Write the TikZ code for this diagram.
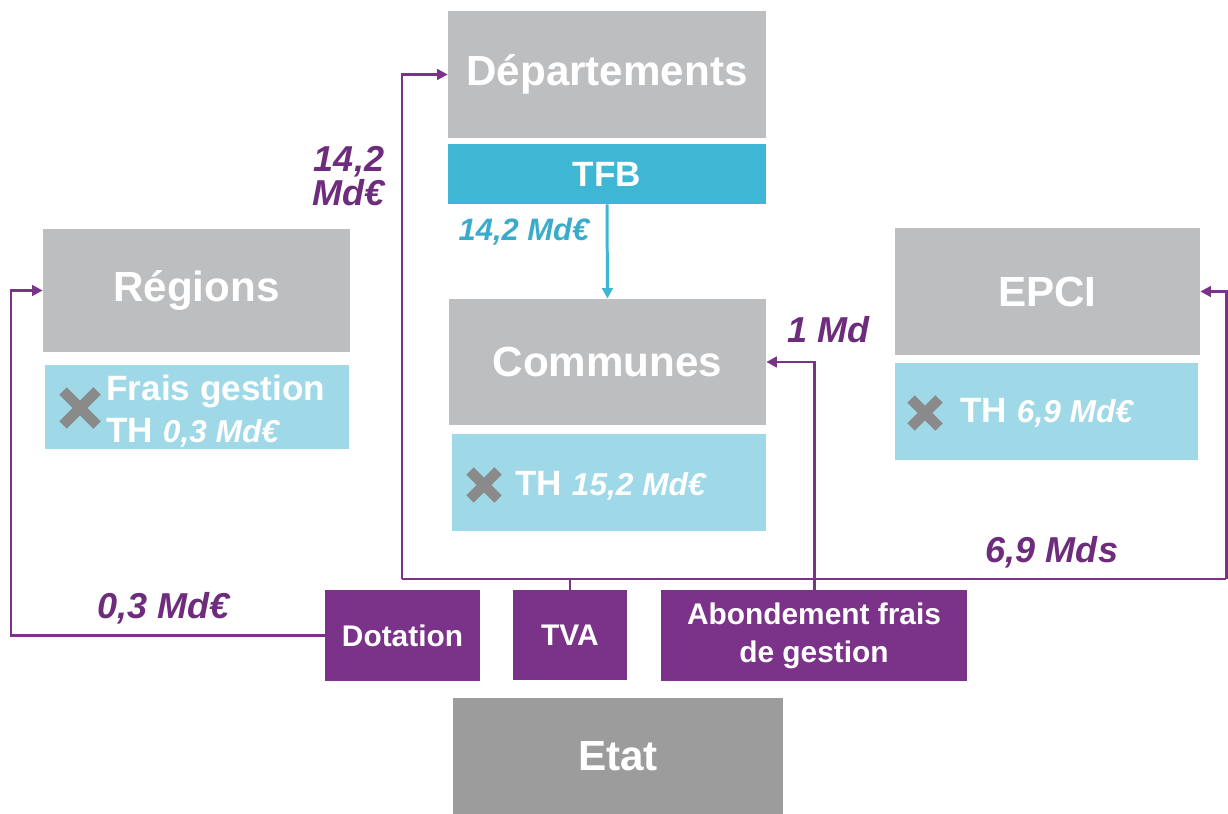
\documentclass[tikz,border=0pt]{standalone}
\usepackage{fontspec}
\setmainfont{Liberation Sans}
\usetikzlibrary{positioning}
\usetikzlibrary{arrows.meta}

\definecolor{gris}{HTML}{BCBEC0}
\definecolor{grisfonce}{HTML}{9C9C9C}
\definecolor{bleu}{HTML}{3DB7D4}
\definecolor{bleutexte}{HTML}{3AABCB}
\definecolor{bleuclair}{HTML}{9FD9E8}
\definecolor{violet}{HTML}{7B3289}
\definecolor{violettexte}{HTML}{6E2C7D}
\definecolor{croix}{HTML}{8A8A8A}

\newcommand{\montant}[1]{{\fontsize{18}{22}\selectfont\itshape #1}}

\begin{document}
\begin{tikzpicture}[x=0.02cm, y=-0.02cm,
    bloc/.style={fill=gris, text=white, inner sep=0pt, font=\fontsize{24}{28}\selectfont\bfseries},
    sousbloc/.style={fill=bleuclair, inner sep=0pt},
    taxe/.style={fill=bleu, text=white, inner sep=0pt, font=\fontsize{20}{24}\selectfont\bfseries},
    source/.style={fill=violet, text=white, inner sep=0pt, align=center, font=\fontsize{17}{21}\selectfont\bfseries},
    soustexte/.style={text=white, inner sep=0pt, anchor=west, align=left, font=\fontsize{20}{24}\selectfont\bfseries},
    flux/.style={draw=violet, line width=1.7pt, -{Triangle[length=6pt, width=6pt]}},
    trait/.style={draw=violet, line width=1.7pt},
    montantv/.style={text=violettexte, align=center, inner sep=0pt, font=\fontsize{20.5}{21}\selectfont\bfseries\itshape},
    croixtrait/.style={draw=croix, line width=6pt}]
    \useasboundingbox (0,0) rectangle (1228,814);

    \node[bloc, minimum width=6.36cm, minimum height=2.54cm] (dep) at (607,74.5) {Départements};
    \node[taxe, minimum width=6.36cm, minimum height=1.2cm] (tfb) at (607,174) {TFB};
    \node[bloc, minimum width=6.14cm, minimum height=2.46cm] (reg) at (196.5,290.5) {Régions};
    \node[sousbloc, minimum width=6.08cm, minimum height=1.68cm] (regsub) at (197,407) {};
    \node[bloc, minimum width=6.34cm, minimum height=2.52cm] (com) at (607.5,362) {Communes};
    \node[sousbloc, minimum width=6.28cm, minimum height=1.94cm] (comsub) at (609,482.5) {};
    \node[bloc, minimum width=6.1cm, minimum height=2.54cm] (epci) at (1047.5,291.5) {EPCI};
    \node[sousbloc, minimum width=6.06cm, minimum height=1.94cm] (epcisub) at (1046.5,411.5) {};
    \node[source, minimum width=3.1cm, minimum height=1.82cm] (dot) at (402.5,635.5) {Dotation};
    \node[source, minimum width=2.28cm, minimum height=1.8cm] (tva) at (570,635) {TVA};
    \node[source, minimum width=6.12cm, minimum height=1.82cm, font=\fontsize{17}{21.5}\selectfont\bfseries] (abo) at (814,635.5) {Abondement frais\\de gestion};
    \node[bloc, fill=grisfonce, minimum width=6.6cm, minimum height=2.32cm] (etat) at (618,756) {Etat};

    \draw[croixtrait] (63,391)--(97,425) (63,425)--(97,391);
    \node[soustexte, text depth=0pt] (regtxt) at (106,409) {Frais gestion\\TH \montant{0,3 Md€}};
    \draw[croixtrait] (470,471)--(498,499) (470,499)--(498,471);
    \node[soustexte] (comtxt) at (515,486) {TH \montant{15,2 Md€}};
    \draw[croixtrait] (911,399)--(939,427) (911,427)--(939,399);
    \node[soustexte] (epcitxt) at (960,413) {TH \montant{6,9 Md€}};

    \coordinate (busL) at (402,579);
    \coordinate (busR) at (1226,579);
    \coordinate (dotL) at (11,635.5);
    \draw[trait] (tva.north) -- (tva.north |- busL);
    \draw[trait] (busL) -- (busR);
    \draw[flux] (busL) |- (dep.west);
    \draw[flux] (busR) |- (epci.east);
    \draw[flux] (dot.west) -- (dotL) |- (reg.west);
    \draw[flux] (abo.north) |- (com.east);
    \draw[flux, draw=bleu] (tfb.south) -- (com.north);

    \node[montantv] (lbldep) at (349,176) {14,2\\[-2pt]Md€};
    \node[montantv, text=bleutexte, font=\fontsize{17.6}{21}\selectfont\bfseries\itshape] (lbltfb) at (524,232) {14,2 Md€};
    \node[montantv] (lblcom) at (829,330) {1 Md};
    \node[montantv] (lblepci) at (1052,552) {6,9 Mds};
    \node[montantv] (lblreg) at (164,608) {0,3 Md€};
\end{tikzpicture}
\end{document}
